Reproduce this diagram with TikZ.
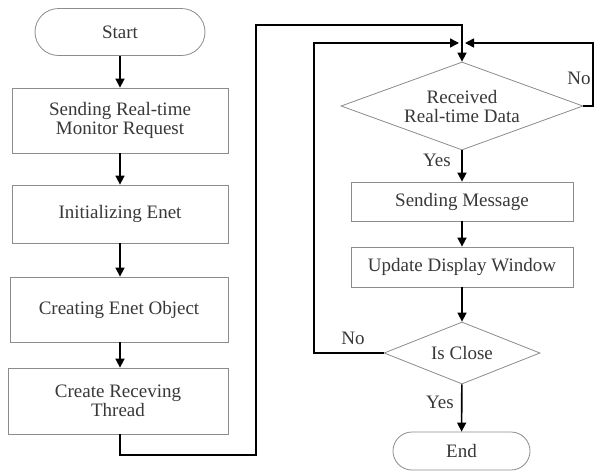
\documentclass[tikz,border=0pt]{standalone}
\usepackage{fontspec}
\setmainfont{Liberation Serif}
\usetikzlibrary{shapes.geometric,arrows.meta}
\begin{document}
\begin{tikzpicture}[x=1pt,y=-1pt,
  every node/.style={font=\fontsize{19}{19}\selectfont, text=black!78},
  box/.style={draw=black!45, line width=0.8pt, fill=white, align=center, inner sep=0pt, minimum width=216pt},
  term/.style={draw=black!45, line width=0.8pt, fill=white, inner sep=0pt},
  dec/.style={diamond, draw=black!45, line width=0.8pt, fill=white, align=center, inner sep=0pt},
  arr/.style={draw=black, line width=1.6pt, -{Triangle[length=9pt,width=9pt]}},
  ln/.style={draw=black!85, line width=1.6pt},
  lbl/.style={inner sep=0pt}
]
\useasboundingbox (0,0) rectangle (595,472);
\fill[white] (0,0) rectangle (595,472);

% left column
\node[term, minimum width=170pt, minimum height=47pt, rounded corners=23.5pt] (start) at (120,32) {Start};
\node[box, minimum height=65pt] (b1) at (120,120.5) {Sending Real-time\\Monitor Request};
\node[box, minimum height=58pt] (b2) at (120,214) {Initializing Enet};
\node[box, minimum width=218pt, minimum height=65pt] (b3) at (119,309.5) {Creating Enet Object};
\node[box, minimum width=220pt, minimum height=66pt] (b4) at (118,401) {Create Receving\\Thread};

% right column
\node[dec, aspect=2.75, minimum width=242pt, minimum height=88pt] (d1) at (462,106) {Received\\Real-time Data};
\node[box, minimum width=222pt, minimum height=39pt] (sm) at (462,201.5) {Sending Message};
\node[box, minimum width=222pt, minimum height=40pt] (ud) at (462,267) {Update Display Window};
\node[dec, aspect=2.5, minimum width=156pt, minimum height=62pt] (cl) at (462,353) {Is Close};
\node[term, minimum width=137pt, minimum height=38pt, rounded corners=19pt] (end) at (461.5,451) {End};

% labels
\node[lbl] (no1) at (579,78) {No};
\node[lbl] (yes1) at (437,160) {Yes};
\node[lbl] (no2) at (353,338) {No};
\node[lbl] (yes2) at (440,402) {Yes};

% helper coordinates
\coordinate (c1) at (256,455);
\coordinate (c2) at (256,25);
\coordinate (c3) at (314,353);
\coordinate (jl) at (459,43);
\coordinate (c4) at (593,106);
\coordinate (jr) at (465,43);

% connectors
\draw[arr] (start) -- (b1);
\draw[arr] (b1) -- (b2);
\draw[arr] (b2) -- (b3.north -| b2.south);
\draw[arr] (b3.south -| b2.south) -- (b4.north -| b2.south);
\draw[arr] (b4.south -| b2.south) |- (c1) -- (c2) -| (d1.north);
\draw[arr] (d1) -- (sm);
\draw[arr] (sm) -- (ud);
\draw[arr] (ud) -- (cl);
\draw[arr] (cl) -- (end);
\draw[arr] (cl.west) -- (c3) |- (jl);
\draw[arr] (d1.east) -- (c4) |- (jr);
\end{tikzpicture}
\end{document}
